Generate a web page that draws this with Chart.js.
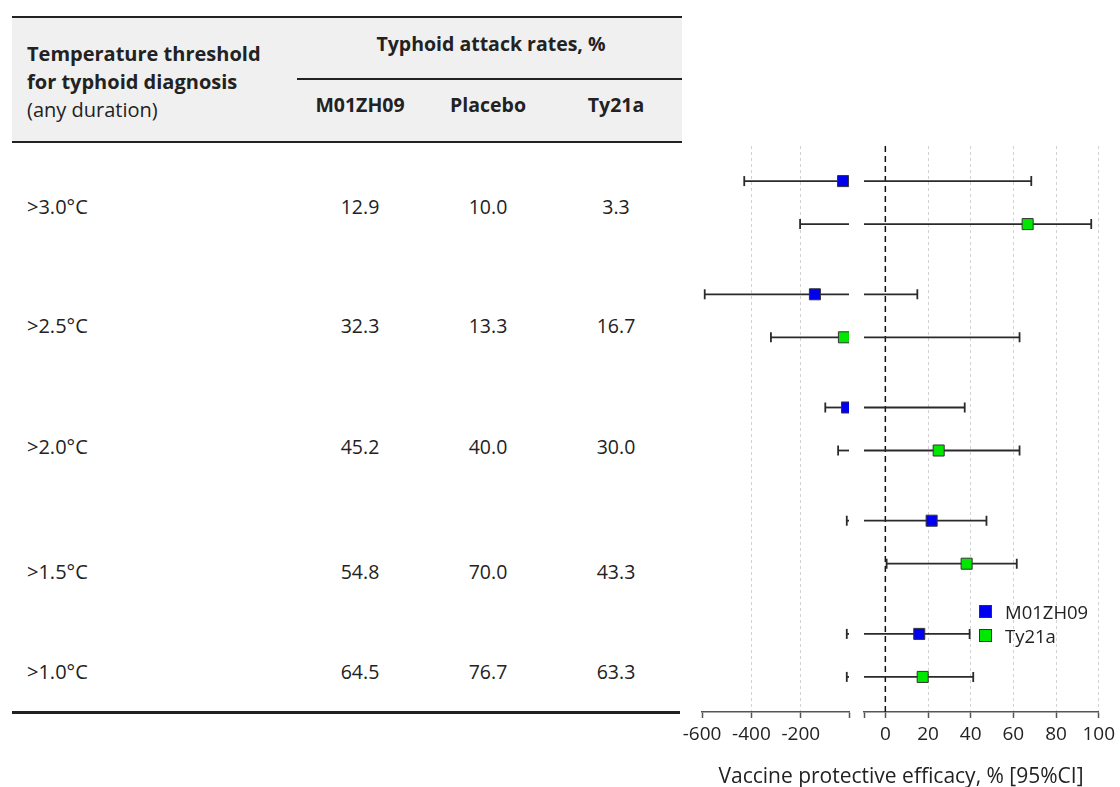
<!DOCTYPE html>
<html>
<head>
<meta charset="utf-8">
<script src="https://cdn.jsdelivr.net/npm/chart.js@4.4.0/dist/chart.umd.min.js"></script>
<style>
  body { margin: 0; width: 1120px; height: 787px; background: #fff; position: relative; overflow: hidden;
         font-family: 'Open Sans', sans-serif; color: #222; }
  .t { position: absolute; line-height: 1; white-space: nowrap; }
  .rule { position: absolute; background: #222; }
  canvas { position: absolute; top: 0; }
  .sw { position: absolute; width: 11px; height: 11px; border: 1px solid #333; }
</style>
</head>
<body>
<canvas id="left" width="240" height="787" style="left:640px"></canvas>
<canvas id="right" width="280" height="787" style="left:840px"></canvas>
<script>
// table + forest data
const thresholds = ['>3.0°C', '>2.5°C', '>2.0°C', '>1.5°C', '>1.0°C'];
const attackM01 = ['12.9', '32.3', '45.2', '54.8', '64.5'];
const attackPlacebo = ['10.0', '13.3', '40.0', '70.0', '76.7'];
const attackTy21a = ['3.3', '16.7', '30.0', '43.3', '63.3'];

const efficacyM01 = [-29, -143, -13, 21.7, 15.9];
const lowerM01 = [-429, -589, -101, -14, -14];
const upperM01 = [68.4, 15, 37.2, 47.4, 39.5];
const efficacyTy21a = [66.7, -25.6, 25, 38.1, 17.5];
const lowerTy21a = [-203, -321, -49, 0.6, -14];
const upperTy21a = [96.5, 62.9, 62.9, 61.6, 41.2];

const leftTicks = [-600, -400, -200];
const rightTicks = [0, 20, 40, 60, 80, 100];

// broken axis: two segments
const leftMin = -600, leftMax = -5;
const rightMin = -10, rightMax = 100;

const series = [
  { name: 'M01ZH09', est: efficacyM01, lo: lowerM01, hi: upperM01, color: '#0000f0', offset: -0.19 },
  { name: 'Ty21a', est: efficacyTy21a, lo: lowerTy21a, hi: upperTy21a, color: '#00e800', offset: 0.19 }
];

const FONT = "'Open Sans', sans-serif";

function txt(s, x, y, size, bold, center) {
  const d = document.createElement('div');
  d.className = 't';
  d.textContent = s;
  d.style.left = x + 'px';
  d.style.top = y + 'px';
  d.style.fontSize = size + 'px';
  if (bold) d.style.fontWeight = '700';
  d.style.transform = center ? 'translate(-50%,-50%)' : 'translate(0,-50%)';
  document.body.appendChild(d);
}
function rule(x, y, w, h, color) {
  const d = document.createElement('div');
  d.className = 'rule';
  Object.assign(d.style, { left: x + 'px', top: y + 'px', width: w + 'px', height: h + 'px' });
  if (color) d.style.background = color;
  document.body.appendChild(d);
}

// table
rule(12, 18, 670, 124, '#f0f0f0');
rule(12, 16, 670, 2);
rule(297, 78, 385, 2);
rule(12, 141, 670, 2);
rule(12, 711, 668, 2.5);
txt('Temperature threshold', 27, 54, 20, true);
txt('for typhoid diagnosis', 27, 82, 20, true);
txt('(any duration)', 27, 110, 20, false);
txt('Typhoid attack rates, %', 491, 44, 19.5, true, true);
txt('M01ZH09', 360, 105, 19.5, true, true);
txt('Placebo', 488, 105, 19.5, true, true);
txt('Ty21a', 616, 105, 19.5, true, true);
const rowY = [207, 326, 447, 572, 672];
thresholds.forEach((lab, i) => {
  txt(lab, 27, rowY[i], 20, false);
  txt(attackM01[i], 360, rowY[i], 19.5, false, true);
  txt(attackPlacebo[i], 488, rowY[i], 19.5, false, true);
  txt(attackTy21a[i], 616, rowY[i], 19.5, false, true);
});

// legend + axis title
series.forEach((s, i) => {
  const sw = document.createElement('div');
  sw.className = 'sw';
  Object.assign(sw.style, { left: '979px', top: (605 + i * 24) + 'px', background: s.color });
  document.body.appendChild(sw);
  txt(s.name, 1005, 612 + i * 24, 18.5, false);
});
txt('Vaccine protective efficacy, % [95%CI]', 901, 775, 21, false, true);

function segmentDatasets(min, max, isLeft) {
  const ds = [];
  series.forEach(s => {
    const pts = [];
    s.est.forEach((v, i) => {
      const inSeg = isLeft ? v < rightMin : v >= rightMin;
      if (inSeg) pts.push({ x: v, y: i + s.offset });
    });
    ds.push({ data: pts, pointStyle: 'rect', pointRadius: 7.8, backgroundColor: s.color,
              borderColor: '#333', borderWidth: 1, order: 0 });
  });
  series.forEach(s => {
    s.lo.forEach((lo, i) => {
      const hi = s.hi[i];
      if (hi < min || lo > max) return;
      const y = i + s.offset;
      ds.push({
        data: [{ x: Math.max(lo, min), y }, { x: Math.min(hi, max), y }],
        showLine: true, borderColor: '#2a2a2a', borderWidth: 1.8,
        pointStyle: 'line', pointRotation: 90,
        pointRadius: [lo >= min ? 5 : 0, hi <= max ? 5 : 0],
        pointBorderColor: '#2a2a2a', pointBorderWidth: 1.8, order: 1
      });
    });
  });
  if (!isLeft) {
    ds.push({ data: [{ x: 0, y: -0.5 }, { x: 0, y: 4.5 }], showLine: true, borderColor: '#111',
              borderWidth: 1.5, borderDash: [6, 4], pointRadius: 0, order: 2 });
  }
  return ds;
}

function makeSegment(id, min, max, tickVals, labelled, gridVals, pad) {
  return new Chart(document.getElementById(id), {
    type: 'scatter',
    data: { datasets: segmentDatasets(min, max, id === 'left') },
    options: {
      responsive: false,
      animation: false,
      events: [],
      layout: { padding: pad },
      plugins: { legend: { display: false }, tooltip: { enabled: false } },
      scales: {
        x: {
          type: 'linear', min, max,
          afterBuildTicks: sc => { sc.ticks = tickVals.map(v => ({ value: v })); },
          afterFit: sc => { sc.height = 40; },
          ticks: {
            autoSkip: false, maxRotation: 0, padding: 5, color: '#222',
            font: { size: 19, family: FONT },
            callback: v => labelled.includes(v) ? String(v) : ''
          },
          grid: {
            color: c => (c.tick && gridVals.includes(c.tick.value)) ? '#d2d2d2' : 'rgba(0,0,0,0)',
            lineWidth: 1, tickColor: '#555', tickLength: 6, tickWidth: 1.5
          },
          border: { color: '#555', width: 1.5, dash: [3, 3] }
        },
        y: { type: 'linear', min: -0.5, max: 4.5, reverse: true, display: false }
      }
    }
  });
}

makeSegment('left', leftMin, leftMax, [...leftTicks, leftMax], leftTicks, [-400, -200],
            { left: 62, right: 31, top: 146, bottom: 35 });
makeSegment('right', rightMin, rightMax, [rightMin, ...rightTicks], rightTicks, [20, 40, 60, 80, 100],
            { left: 24, right: 20, top: 146, bottom: 35 });
</script>
</body>
</html>
